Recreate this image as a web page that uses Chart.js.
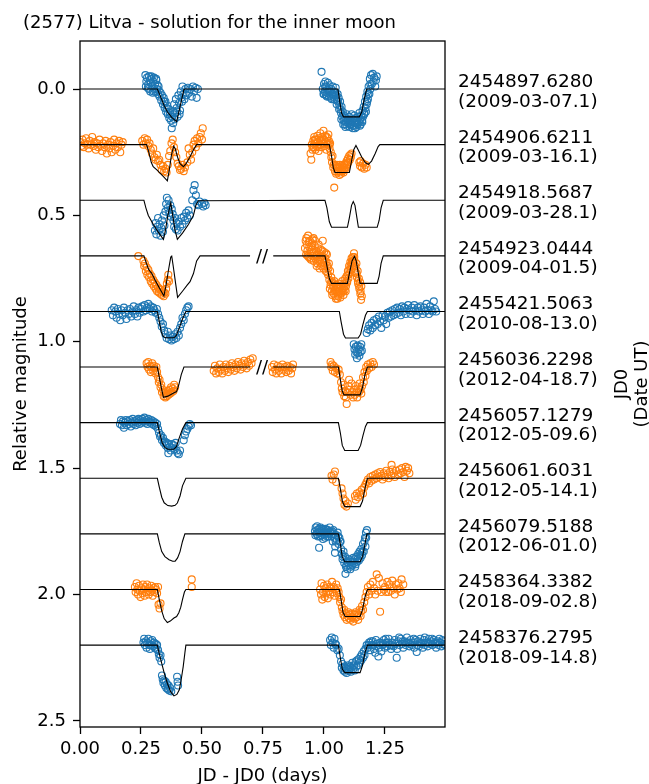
<!DOCTYPE html>
<html>
<head>
<meta charset="utf-8">
<script src="https://cdn.jsdelivr.net/npm/chart.js@4.4.1/dist/chart.umd.min.js"></script>
<style>
  html, body { margin: 0; padding: 0; background: #fff; }
  #wrap { width: 649px; height: 784px; }
</style>
</head>
<body>
<div id="wrap"><canvas id="lcChart" width="649" height="784"></canvas></div>
<script>
// offsets of the individual light curves and their JD0 / date labels
const offsets = [0.00, 0.22, 0.44, 0.66, 0.88, 1.10, 1.32, 1.54, 1.76, 1.98, 2.20];
const jd0Labels = ["2454897.6280", "2454906.6211", "2454918.5687", "2454923.0444", "2455421.5063",
    "2456036.2298", "2456057.1279", "2456061.6031", "2456079.5188", "2458364.3382", "2458376.2795"];
const dateLabels = ["(2009-03-07.1)", "(2009-03-16.1)", "(2009-03-28.1)", "(2009-04-01.5)", "(2010-08-13.0)",
    "(2012-04-18.7)", "(2012-05-09.6)", "(2012-05-14.1)", "(2012-06-01.0)", "(2018-09-02.8)", "(2018-09-14.8)"];
const xTicks = [0.00, 0.25, 0.50, 0.75, 1.00, 1.25];
const yTicks = [0.0, 0.5, 1.0, 1.5, 2.0, 2.5];

// model curves [x, mag]
const model0 = [[0,0],[0.317,0],[0.33,0.03],[0.345,0.065],[0.358,0.09],[0.376,0.112],[0.396,0.129],[0.41,0.07],[0.426,0.002],[0.432,0],
    [1.057,0],[1.063,0.04],[1.072,0.095],[1.08,0.11],[1.145,0.11],[1.155,0.09],[1.165,0.04],[1.175,0],[1.496,0]];
const model1 = [[0,0.22],[0.273,0.22],[0.282,0.25],[0.292,0.29],[0.30,0.307],[0.315,0.32],[0.33,0.335],[0.345,0.35],[0.358,0.363],[0.366,0.32],[0.375,0.26],[0.384,0.226],[0.39,0.235],[0.40,0.27],[0.41,0.295],[0.424,0.307],[0.435,0.295],[0.45,0.27],[0.465,0.24],[0.478,0.22],
    [1.022,0.22],[1.03,0.26],[1.038,0.31],[1.045,0.33],[1.104,0.33],[1.112,0.29],[1.122,0.24],[1.131,0.223],[1.14,0.24],[1.155,0.27],[1.17,0.292],[1.182,0.298],[1.195,0.285],[1.21,0.255],[1.222,0.228],[1.229,0.22],[1.496,0.22]];
const model2 = [[0,0.44],[0.262,0.44],[0.27,0.47],[0.28,0.50],[0.30,0.535],[0.32,0.565],[0.342,0.595],[0.35,0.56],[0.36,0.50],[0.372,0.45],[0.38,0.50],[0.39,0.56],[0.399,0.595],[0.42,0.57],[0.445,0.535],[0.465,0.50],[0.475,0.46],[0.485,0.442],
    [1.004,0.44],[1.012,0.47],[1.022,0.525],[1.031,0.547],[1.096,0.547],[1.104,0.51],[1.113,0.46],[1.12,0.445],[1.127,0.46],[1.135,0.51],[1.141,0.547],[1.218,0.547],[1.226,0.52],[1.234,0.47],[1.243,0.44],[1.496,0.44]];
const model3a = [[0,0.66],[0.262,0.66],[0.272,0.69],[0.282,0.715],[0.294,0.729],[0.31,0.76],[0.33,0.795],[0.344,0.819],[0.352,0.78],[0.362,0.72],[0.372,0.665],[0.376,0.661],[0.382,0.70],[0.392,0.77],[0.40,0.824],[0.42,0.80],[0.44,0.775],[0.451,0.762],[0.465,0.73],[0.478,0.68],[0.492,0.66],[0.697,0.66]];
const model3b = [[0.792,0.66],[1.004,0.66],[1.012,0.70],[1.022,0.75],[1.031,0.769],[1.096,0.769],[1.104,0.73],[1.115,0.68],[1.125,0.662],[1.132,0.68],[1.141,0.73],[1.148,0.769],[1.218,0.769],[1.226,0.74],[1.234,0.69],[1.243,0.66],[1.496,0.66]];
const model4 = [[0,0.88],[0.317,0.88],[0.325,0.92],[0.333,0.96],[0.34,0.978],[0.35,0.984],[0.385,0.984],[0.395,0.975],[0.405,0.95],[0.42,0.91],[0.434,0.88],
    [1.063,0.88],[1.07,0.92],[1.08,0.97],[1.088,0.985],[1.14,0.985],[1.15,0.97],[1.16,0.93],[1.17,0.895],[1.178,0.88],[1.496,0.88]];
const model5a = [[0,1.10],[0.317,1.10],[0.325,1.14],[0.333,1.18],[0.342,1.22],[0.36,1.215],[0.38,1.205],[0.396,1.197],[0.405,1.17],[0.415,1.13],[0.426,1.10],[0.697,1.10]];
const model5b = [[0.792,1.10],[1.059,1.10],[1.067,1.15],[1.075,1.195],[1.082,1.21],[1.148,1.21],[1.158,1.18],[1.168,1.13],[1.178,1.10],[1.496,1.10]];
const model6 = [[0,1.32],[0.317,1.32],[0.325,1.355],[0.337,1.40],[0.348,1.418],[0.36,1.425],[0.385,1.425],[0.395,1.415],[0.405,1.385],[0.42,1.345],[0.434,1.32],
    [1.059,1.32],[1.067,1.36],[1.075,1.41],[1.085,1.43],[1.14,1.43],[1.15,1.41],[1.16,1.37],[1.17,1.335],[1.178,1.32],[1.496,1.32]];
const model7 = [[0,1.54],[0.317,1.54],[0.325,1.575],[0.335,1.615],[0.345,1.637],[0.36,1.648],[0.376,1.65],[0.39,1.647],[0.399,1.638],[0.41,1.61],[0.42,1.57],[0.434,1.54],
    [1.059,1.54],[1.067,1.58],[1.075,1.63],[1.085,1.652],[1.148,1.652],[1.158,1.63],[1.168,1.58],[1.178,1.54],[1.496,1.54]];
const model8 = [[0,1.76],[0.317,1.76],[0.325,1.795],[0.335,1.83],[0.348,1.85],[0.365,1.862],[0.38,1.868],[0.39,1.868],[0.40,1.855],[0.41,1.83],[0.42,1.79],[0.43,1.76],
    [1.059,1.76],[1.067,1.80],[1.075,1.85],[1.085,1.87],[1.148,1.87],[1.158,1.85],[1.168,1.80],[1.176,1.76],[1.496,1.76]];
const model9 = [[0,1.98],[0.317,1.98],[0.325,2.02],[0.335,2.065],[0.345,2.095],[0.358,2.111],[0.37,2.105],[0.385,2.093],[0.396,2.087],[0.405,2.072],[0.413,2.05],[0.42,2.02],[0.428,1.99],[0.434,1.98],
    [1.063,1.98],[1.07,2.02],[1.078,2.07],[1.087,2.087],[1.148,2.087],[1.158,2.06],[1.168,2.01],[1.178,1.98],[1.496,1.98]];
const model10 = [[0,2.20],[0.317,2.20],[0.325,2.235],[0.335,2.272],[0.345,2.31],[0.358,2.351],[0.372,2.385],[0.385,2.401],[0.397,2.395],[0.407,2.377],[0.415,2.335],[0.423,2.285],[0.43,2.23],[0.434,2.20],
    [1.059,2.20],[1.067,2.25],[1.075,2.295],[1.085,2.309],[1.148,2.309],[1.158,2.28],[1.168,2.23],[1.178,2.20],[1.496,2.20]];

// observations [x, mag]
const obs0 = [[0.268,-0.055],[0.272,-0.03],[0.275,-0.045],[0.278,-0.005],[0.28,-0.02],[0.283,-0.05],[0.286,-0.035],[0.288,0.01],[0.29,-0.025],[0.293,-0.04],[0.296,-0.01],[0.298,0.015],[0.30,-0.03],[0.303,-0.045],[0.305,0.0],[0.308,-0.02],[0.31,0.012],[0.313,-0.035],[0.316,0.0],[0.318,-0.015],[0.32,0.02],[0.323,0.005],[0.326,0.03],[0.33,0.015],[0.333,0.045],[0.336,0.025],[0.34,0.06],[0.343,0.035],[0.347,0.075],[0.35,0.05],[0.353,0.09],[0.357,0.065],[0.36,0.10],[0.363,0.08],[0.366,0.115],[0.37,0.095],[0.373,0.125],[0.376,0.155],[0.378,0.11],[0.382,0.135],[0.386,0.06],[0.39,0.095],[0.393,0.04],[0.396,0.075],[0.40,0.11],[0.403,0.025],[0.406,0.055],[0.41,0.085],[0.413,0.01],[0.416,0.035],[0.42,-0.01],[0.424,0.02],[0.428,0.04],[0.432,0.0],[0.437,0.025],[0.442,-0.005],[0.447,0.015],[0.452,0.0],[0.458,0.03],[0.463,-0.01],[0.468,0.01],[0.474,-0.005],[0.478,0.035],[0.483,0.0],
    [0.27,-0.01],[0.282,0.0],[0.292,-0.05],[0.302,0.01],[0.312,-0.04],[0.322,-0.01],[0.345,0.05],[0.355,0.075],[0.368,0.1],[0.38,0.09],[0.388,0.12],[0.398,0.09],[0.408,0.1],[0.418,0.05],
    [0.99,-0.068],[0.995,0.0],[0.998,0.02],[1.0,-0.02],[1.003,0.01],[1.006,-0.03],[1.008,0.025],[1.01,-0.01],[1.013,0.015],[1.016,-0.025],[1.018,0.005],[1.02,0.03],[1.023,-0.015],[1.026,0.01],[1.028,0.035],[1.03,0.0],[1.033,0.02],[1.036,-0.01],[1.038,0.03],[1.04,0.01],[1.043,0.04],[1.046,0.015],[1.048,-0.005],[1.05,0.025],[1.053,0.045],[1.056,0.02],[1.058,0.05],[1.06,0.035],[1.063,0.065],[1.066,0.05],[1.068,0.08],[1.07,0.095],[1.072,0.07],[1.075,0.11],[1.077,0.09],[1.08,0.125],[1.082,0.105],[1.085,0.14],[1.087,0.115],[1.09,0.13],[1.093,0.1],[1.095,0.145],[1.098,0.12],[1.1,0.135],[1.103,0.11],[1.105,0.15],[1.108,0.125],[1.11,0.14],[1.113,0.1],[1.115,0.13],[1.118,0.155],[1.12,0.12],[1.123,0.145],[1.125,0.105],[1.128,0.135],[1.13,0.115],[1.133,0.15],[1.135,0.125],[1.138,0.14],[1.14,0.11],[1.143,0.13],[1.145,0.095],[1.148,0.12],[1.15,0.14],[1.153,0.105],[1.156,0.125],[1.158,0.085],[1.16,0.11],[1.163,0.07],[1.166,0.095],[1.168,0.05],[1.17,0.075],[1.173,0.03],[1.175,0.06],[1.178,0.01],[1.18,0.04],[1.183,-0.01],[1.186,0.02],[1.188,-0.04],[1.19,0.0],[1.193,-0.055],[1.196,-0.02],[1.2,-0.06],[1.203,-0.03],[1.206,-0.045],[1.21,-0.01],[1.213,-0.035],[1.216,-0.05],
    [1.0,0.02],[1.005,-0.01],[1.012,0.03],[1.022,0.0],[1.032,0.04],[1.042,0.025],[1.052,0.06],[1.062,0.08],[1.071,0.12],[1.079,0.14],[1.088,0.15],[1.097,0.13],[1.107,0.14],[1.117,0.145],[1.127,0.155],[1.137,0.135],[1.147,0.145],[1.157,0.13],[1.165,0.1],[1.172,0.09],[1.177,0.05],[1.182,0.02],[1.19,-0.02]];
const obs1 = [[0.0,0.21],[0.005,0.225],[0.01,0.20],[0.015,0.23],[0.02,0.215],[0.025,0.195],[0.03,0.22],[0.035,0.235],[0.04,0.205],[0.045,0.22],[0.05,0.19],[0.055,0.225],[0.06,0.21],[0.065,0.24],[0.07,0.215],[0.075,0.23],[0.08,0.2],[0.085,0.225],[0.09,0.245],[0.095,0.215],[0.10,0.23],[0.105,0.205],[0.11,0.255],[0.115,0.22],[0.12,0.235],[0.125,0.21],[0.13,0.25],[0.135,0.225],[0.14,0.2],[0.145,0.24],[0.15,0.215],[0.155,0.23],[0.16,0.205],[0.165,0.25],[0.17,0.22],[0.175,0.21],
    [0.255,0.205],[0.26,0.22],[0.265,0.195],[0.27,0.215],[0.275,0.2],[0.28,0.225],[0.285,0.215],[0.29,0.24],[0.295,0.255],[0.30,0.235],[0.305,0.27],[0.31,0.28],[0.315,0.26],[0.32,0.285],[0.325,0.28],[0.33,0.3],[0.335,0.32],[0.34,0.305],[0.345,0.325],[0.35,0.315],[0.355,0.33],[0.36,0.3],[0.365,0.265],[0.37,0.245],[0.375,0.215],[0.38,0.2],[0.385,0.23],[0.39,0.25],[0.395,0.27],[0.40,0.295],[0.405,0.305],[0.41,0.32],[0.415,0.315],[0.42,0.3],[0.425,0.325],[0.43,0.31],[0.44,0.29],[0.445,0.235],[0.45,0.26],[0.455,0.28],[0.46,0.25],[0.465,0.22],[0.47,0.205],[0.475,0.23],[0.48,0.195],[0.485,0.215],[0.49,0.19],[0.495,0.175],[0.50,0.2],[0.503,0.155],
    [0.945,0.255],[0.948,0.28],[0.95,0.22],[0.953,0.24],[0.956,0.205],[0.958,0.23],[0.96,0.19],[0.963,0.215],[0.965,0.24],[0.968,0.2],[0.97,0.225],[0.973,0.185],[0.975,0.21],[0.978,0.245],[0.98,0.195],[0.983,0.22],[0.985,0.175],[0.988,0.205],[0.99,0.23],[0.993,0.19],[0.995,0.215],[0.998,0.165],[1.0,0.2],[1.003,0.225],[1.005,0.185],[1.008,0.21],[1.01,0.24],[1.013,0.195],[1.015,0.22],[1.018,0.18],[1.02,0.205],[1.023,0.235],[1.025,0.215],[1.028,0.25],[1.03,0.27],[1.033,0.29],[1.035,0.265],[1.038,0.31],[1.04,0.3],[1.042,0.39],[1.045,0.325],[1.048,0.305],[1.05,0.335],[1.053,0.315],[1.055,0.33],[1.058,0.31],[1.06,0.325],[1.063,0.34],[1.065,0.3],[1.068,0.32],[1.07,0.335],[1.073,0.305],[1.075,0.325],[1.078,0.31],[1.08,0.33],[1.083,0.3],[1.085,0.32],[1.088,0.295],[1.09,0.31],[1.093,0.285],[1.095,0.3],[1.098,0.275],[1.1,0.29],[1.103,0.265],[1.106,0.28],[1.108,0.26],[1.11,0.27],[1.113,0.255],[1.145,0.29],[1.148,0.305],[1.15,0.285],[1.155,0.31],[1.16,0.295],[1.165,0.315],[1.17,0.3],[1.175,0.31],
    [0.955,0.23],[0.962,0.2],[0.972,0.23],[0.982,0.205],[0.992,0.2],[1.002,0.215],[1.012,0.19],[1.022,0.22],[1.052,0.3],[1.062,0.31],[1.072,0.32],[1.082,0.315],[1.092,0.3]];
const obs2 = [[0.307,0.56],[0.31,0.53],[0.313,0.575],[0.316,0.545],[0.32,0.51],[0.323,0.56],[0.326,0.535],[0.33,0.58],[0.333,0.55],[0.336,0.52],[0.34,0.565],[0.343,0.5],[0.346,0.54],[0.35,0.485],[0.353,0.455],[0.356,0.43],[0.36,0.47],[0.363,0.44],[0.366,0.49],[0.37,0.46],[0.373,0.505],[0.376,0.475],[0.38,0.495],[0.383,0.52],[0.386,0.545],[0.39,0.51],[0.393,0.555],[0.396,0.53],[0.40,0.56],[0.405,0.525],[0.41,0.545],[0.415,0.51],[0.42,0.535],[0.425,0.505],[0.43,0.52],[0.435,0.49],[0.44,0.51],[0.445,0.48],[0.45,0.5],[0.46,0.44],[0.465,0.40],[0.47,0.38],[0.475,0.42],[0.48,0.455],[0.485,0.46],[0.49,0.445],[0.50,0.455],[0.505,0.465],[0.51,0.45],[0.515,0.46]];
const obs3 = [[0.239,0.661],[0.26,0.68],[0.263,0.7],[0.266,0.69],[0.27,0.72],[0.273,0.705],[0.276,0.735],[0.28,0.715],[0.283,0.745],[0.286,0.73],[0.29,0.76],[0.293,0.74],[0.296,0.77],[0.30,0.755],[0.303,0.78],[0.306,0.765],[0.31,0.79],[0.313,0.775],[0.316,0.8],[0.32,0.785],[0.323,0.805],[0.326,0.79],[0.33,0.81],[0.333,0.795],[0.336,0.815],[0.34,0.8],[0.343,0.82],[0.346,0.805],[0.35,0.81],[0.353,0.79],[0.356,0.77],[0.36,0.755],[0.362,0.735],[0.365,0.76],
    [0.922,0.63],[0.925,0.6],[0.927,0.655],[0.93,0.615],[0.932,0.64],[0.935,0.58],[0.937,0.665],[0.94,0.625],[0.942,0.6],[0.945,0.645],[0.947,0.675],[0.95,0.61],[0.952,0.635],[0.955,0.66],[0.957,0.59],[0.96,0.645],[0.962,0.62],[0.965,0.67],[0.967,0.64],[0.97,0.7],[0.972,0.655],[0.975,0.63],[0.977,0.68],[0.98,0.65],[0.982,0.71],[0.985,0.665],[0.987,0.635],[0.99,0.69],[0.992,0.66],[0.995,0.6],[0.997,0.675],[1.0,0.645],[1.002,0.7],[1.005,0.67],[1.007,0.72],[1.01,0.685],[1.012,0.655],[1.015,0.7],[1.017,0.735],[1.02,0.69],
    [1.022,0.755],[1.025,0.72],[1.027,0.775],[1.03,0.745],[1.032,0.8],[1.035,0.765],[1.037,0.785],[1.04,0.81],[1.042,0.76],[1.045,0.795],[1.047,0.82],[1.05,0.775],[1.052,0.8],[1.055,0.83],[1.057,0.785],[1.06,0.81],[1.062,0.77],[1.065,0.8],[1.067,0.825],[1.07,0.78],[1.072,0.805],[1.075,0.76],[1.077,0.79],[1.08,0.815],[1.082,0.77],[1.085,0.795],[1.087,0.75],[1.09,0.78],
    [1.093,0.74],[1.095,0.765],[1.098,0.72],[1.1,0.75],[1.103,0.7],[1.105,0.73],[1.108,0.685],[1.11,0.715],[1.113,0.67],[1.115,0.7],[1.118,0.665],[1.12,0.69],[1.123,0.65],[1.125,0.68],[1.128,0.7],[1.13,0.725],[1.133,0.69],[1.135,0.745],[1.138,0.72],[1.14,0.77],[1.143,0.75],[1.145,0.79],[1.148,0.765],[1.15,0.8],[1.153,0.78],[1.155,0.82],[1.152,0.834],
    [0.928,0.59],[0.933,0.66],[0.938,0.605],[0.943,0.67],[0.948,0.625],[0.953,0.595],[0.958,0.68],[0.963,0.6],[0.968,0.66],[0.973,0.69],[0.978,0.615],[0.983,0.675],[0.988,0.7],[0.993,0.64],[0.998,0.71],[1.003,0.685],[1.008,0.65],[1.013,0.725],[1.018,0.71],[1.024,0.79],[1.029,0.765],[1.034,0.815],[1.039,0.78],[1.044,0.8],[1.049,0.83],[1.054,0.79],[1.059,0.82],[1.064,0.785],[1.069,0.81],[1.074,0.795],[1.079,0.8],[1.084,0.78],[1.089,0.8],[1.094,0.76],[1.099,0.735],[1.104,0.715],[1.109,0.7],[1.114,0.685],[1.119,0.68],[1.124,0.665],[1.129,0.71],[1.134,0.73],[1.139,0.76],[1.144,0.78],[1.149,0.81]];
const obs4 = [[0.13,0.875],[0.135,0.895],[0.14,0.865],[0.145,0.88],[0.15,0.905],[0.155,0.87],[0.16,0.89],[0.165,0.915],[0.17,0.875],[0.175,0.895],[0.18,0.865],[0.185,0.885],[0.19,0.91],[0.195,0.875],[0.2,0.89],[0.205,0.87],[0.21,0.9],[0.215,0.88],[0.22,0.86],[0.225,0.89],[0.23,0.875],[0.235,0.9],[0.24,0.865],[0.245,0.885],[0.25,0.87],[0.255,0.86],[0.26,0.88],[0.265,0.855],[0.27,0.875],[0.275,0.865],[0.28,0.85],[0.285,0.87],[0.29,0.86],[0.295,0.88],[0.3,0.865],[0.305,0.875],[0.31,0.885],[0.315,0.87],[0.32,0.89],[0.325,0.905],[0.33,0.92],[0.335,0.94],[0.34,0.93],[0.345,0.955],[0.35,0.97],[0.355,0.985],[0.36,0.96],[0.365,0.99],[0.37,0.975],[0.375,0.995],[0.38,0.98],[0.385,0.99],[0.39,0.97],[0.395,0.985],[0.40,0.96],[0.405,0.975],[0.41,0.945],[0.415,0.93],[0.42,0.905],[0.425,0.915],[0.43,0.89],[0.435,0.875],[0.44,0.865],[0.445,0.86],
    [1.122,1.01],[1.125,1.03],[1.128,1.05],[1.13,1.02],[1.133,1.04],[1.135,1.065],[1.138,1.015],[1.14,1.045],[1.143,1.03],[1.145,1.055],[1.148,1.02],[1.15,1.04],[1.153,1.01],[1.155,1.035],
    [1.175,0.965],[1.18,0.95],[1.185,0.935],[1.19,0.955],[1.195,0.925],[1.2,0.945],[1.205,0.915],[1.21,0.935],[1.215,0.91],[1.22,0.93],[1.225,0.9],[1.23,0.92],[1.235,0.945],[1.24,0.895],[1.245,0.915],[1.25,0.9],[1.255,0.93],[1.26,0.885],[1.265,0.905],[1.27,0.88],[1.275,0.9],[1.28,0.875],[1.285,0.895],[1.29,0.87],[1.295,0.89],[1.3,0.865],[1.305,0.885],[1.31,0.87],[1.315,0.895],[1.32,0.86],[1.325,0.88],[1.33,0.865],[1.335,0.89],[1.34,0.87],[1.345,0.855],[1.35,0.875],[1.355,0.89],[1.36,0.865],[1.365,0.88],[1.37,0.855],[1.375,0.875],[1.38,0.895],[1.385,0.865],[1.39,0.88],[1.395,0.86],[1.4,0.875],[1.405,0.89],[1.41,0.865],[1.415,0.88],[1.42,0.85],[1.425,0.875],[1.43,0.89],[1.435,0.86],[1.44,0.875],[1.445,0.88],[1.45,0.84],[1.455,0.87],[1.46,0.88]];
const obs5 = [[0.273,1.085],[0.277,1.1],[0.28,1.08],[0.283,1.11],[0.286,1.095],[0.29,1.12],[0.293,1.1],[0.296,1.085],[0.30,1.115],[0.303,1.095],[0.306,1.105],[0.31,1.125],[0.313,1.1],[0.316,1.12],[0.32,1.14],[0.323,1.16],[0.326,1.15],[0.33,1.18],[0.333,1.17],[0.336,1.2],[0.34,1.19],[0.343,1.215],[0.346,1.2],[0.35,1.22],[0.353,1.205],[0.356,1.215],[0.36,1.195],[0.363,1.21],[0.366,1.19],[0.37,1.205],[0.373,1.18],[0.376,1.2],[0.38,1.185],[0.383,1.195],[0.386,1.17],[0.39,1.18],
    [0.548,1.115],[0.553,1.095],[0.558,1.125],[0.563,1.105],[0.568,1.12],[0.573,1.09],[0.578,1.11],[0.583,1.125],[0.588,1.1],[0.593,1.115],[0.598,1.09],[0.603,1.105],[0.608,1.12],[0.613,1.095],[0.618,1.11],[0.623,1.085],[0.628,1.1],[0.633,1.115],[0.638,1.09],[0.643,1.105],[0.648,1.08],[0.653,1.095],[0.658,1.11],[0.663,1.085],[0.668,1.1],[0.673,1.075],[0.678,1.09],[0.683,1.105],[0.688,1.08],[0.693,1.095],[0.698,1.07],[0.703,1.085],[0.708,1.065],
    [0.787,1.1],[0.79,1.12],[0.795,1.09],[0.8,1.11],[0.805,1.125],[0.81,1.095],[0.815,1.115],[0.82,1.1],[0.825,1.125],[0.83,1.09],[0.835,1.11],[0.84,1.1],[0.845,1.12],[0.85,1.095],[0.855,1.115],[0.86,1.1],[0.865,1.125],[0.87,1.105],[0.873,1.09],
    [1.027,1.08],[1.03,1.1],[1.033,1.09],[1.036,1.115],[1.04,1.095],[1.045,1.12],[1.05,1.105],[1.055,1.125],[1.06,1.11],[1.065,1.13],[1.07,1.16],[1.073,1.185],[1.076,1.2],[1.08,1.17],[1.083,1.215],[1.086,1.195],[1.09,1.22],[1.093,1.246],[1.096,1.2],[1.1,1.175],[1.103,1.15],[1.106,1.19],[1.11,1.21],[1.113,1.165],[1.116,1.2],[1.12,1.22],[1.123,1.19],[1.126,1.21],[1.13,1.175],[1.133,1.2],[1.136,1.22],[1.14,1.185],[1.143,1.2],[1.146,1.165],[1.15,1.19],[1.153,1.205],[1.156,1.175],[1.16,1.14],[1.163,1.16],[1.166,1.12],[1.17,1.135],[1.173,1.1],[1.176,1.115],[1.18,1.09],[1.185,1.105],[1.19,1.085],[1.195,1.1],[1.2,1.08],[1.205,1.09]];
const obs6 = [[0.164,1.325],[0.168,1.31],[0.172,1.33],[0.176,1.315],[0.18,1.34],[0.184,1.32],[0.188,1.31],[0.192,1.33],[0.196,1.315],[0.2,1.325],[0.204,1.31],[0.208,1.335],[0.212,1.32],[0.216,1.305],[0.22,1.325],[0.224,1.315],[0.228,1.33],[0.232,1.31],[0.236,1.32],[0.24,1.305],[0.244,1.325],[0.248,1.31],[0.252,1.32],[0.256,1.305],[0.26,1.315],[0.264,1.3],[0.268,1.32],[0.272,1.31],[0.276,1.325],[0.28,1.305],[0.284,1.315],[0.288,1.32],[0.292,1.31],[0.296,1.325],[0.30,1.315],[0.304,1.33],[0.308,1.32],[0.312,1.335],[0.316,1.325],[0.32,1.345],[0.324,1.36],[0.328,1.375],[0.332,1.37],[0.336,1.39],[0.34,1.38],[0.344,1.40],[0.348,1.395],[0.352,1.41],[0.356,1.4],[0.36,1.42],[0.362,1.441],[0.364,1.405],[0.368,1.415],[0.372,1.43],[0.376,1.405],[0.38,1.42],[0.384,1.41],[0.388,1.425],[0.392,1.4],[0.396,1.43],[0.40,1.44],[0.405,1.445],[0.41,1.43],[0.425,1.39],[0.43,1.37],[0.435,1.355],[0.44,1.345],[0.445,1.335],[0.45,1.325],[0.455,1.33]];
const obs7 = [[1.031,1.53],[1.035,1.545],[1.04,1.525],[1.045,1.513],[1.05,1.555],[1.072,1.58],[1.076,1.6],[1.08,1.62],[1.084,1.645],[1.088,1.63],[1.092,1.652],[1.098,1.64],[1.127,1.61],[1.13,1.625],[1.135,1.6],[1.14,1.615],[1.145,1.595],[1.15,1.605],[1.155,1.585],[1.16,1.6],[1.165,1.575],[1.17,1.565],[1.175,1.555],[1.18,1.545],[1.185,1.56],[1.19,1.535],[1.195,1.55],[1.2,1.53],[1.205,1.545],[1.21,1.525],[1.215,1.54],[1.22,1.52],[1.225,1.535],[1.23,1.515],[1.235,1.53],[1.24,1.545],[1.245,1.52],[1.25,1.535],[1.255,1.51],[1.26,1.525],[1.265,1.54],[1.27,1.515],[1.275,1.53],[1.28,1.505],[1.285,1.52],[1.29,1.535],[1.295,1.51],[1.277,1.487],[1.305,1.525],[1.31,1.505],[1.315,1.52],[1.32,1.5],[1.325,1.515],[1.33,1.535],[1.335,1.495],[1.34,1.51],[1.345,1.5],[1.35,1.52]];
const obs8 = [[0.963,1.75],[0.966,1.735],[0.97,1.76],[0.973,1.745],[0.976,1.77],[0.98,1.74],[0.98,1.815],[0.983,1.755],[0.986,1.735],[0.99,1.765],[0.993,1.75],[0.996,1.78],[1.0,1.745],[1.003,1.76],[1.006,1.74],[1.01,1.755],[1.013,1.77],[1.016,1.745],[1.02,1.76],[1.023,1.735],[1.026,1.755],[1.03,1.77],[1.033,1.75],[1.036,1.79],[1.04,1.76],[1.043,1.775],[1.045,1.835],[1.046,1.81],[1.05,1.765],[1.053,1.785],[1.056,1.755],[1.06,1.8],[1.063,1.775],[1.066,1.79],[1.068,1.79],[1.07,1.82],[1.073,1.84],[1.076,1.86],[1.08,1.83],[1.083,1.875],[1.086,1.85],[1.088,1.918],[1.09,1.89],[1.093,1.87],[1.096,1.9],[1.1,1.86],[1.103,1.885],[1.106,1.865],[1.11,1.89],[1.113,1.87],[1.116,1.885],[1.12,1.855],[1.123,1.875],[1.126,1.86],[1.13,1.88],[1.133,1.85],[1.136,1.87],[1.14,1.84],[1.143,1.865],[1.146,1.83],[1.15,1.855],[1.153,1.82],[1.156,1.845],[1.16,1.8],[1.163,1.83],[1.166,1.79],[1.17,1.81],[1.172,1.755],[1.173,1.775],[1.176,1.745],
    [0.965,1.765],[0.972,1.73],[0.978,1.755],[0.985,1.77],[0.992,1.74],[0.998,1.76],[1.005,1.775],[1.012,1.745],[1.018,1.77],[1.025,1.75],[1.032,1.76],[1.038,1.745],[1.048,1.79],[1.058,1.77],[1.078,1.85],[1.092,1.885],[1.098,1.875],[1.108,1.9],[1.118,1.87],[1.128,1.89],[1.138,1.86],[1.148,1.845],[1.158,1.83],[1.168,1.775]];
const obs9 = [[0.225,1.97],[0.228,1.99],[0.232,1.955],[0.235,1.98],[0.238,2.0],[0.242,1.965],[0.245,1.985],[0.248,2.01],[0.252,1.975],[0.255,1.995],[0.258,1.96],[0.262,1.98],[0.265,2.005],[0.268,1.97],[0.272,1.99],[0.275,1.96],[0.278,1.985],[0.282,2.0],[0.285,1.975],[0.288,1.99],[0.292,1.965],[0.295,1.985],[0.298,2.005],[0.302,1.975],[0.305,1.99],[0.308,1.97],[0.312,1.98],[0.316,1.995],[0.32,1.97],[0.322,2.04],[0.326,2.055],[0.33,2.035],[0.458,1.94],[0.458,1.97],
    [0.984,1.98],[0.988,2.0],[0.99,1.955],[0.993,2.02],[0.996,1.99],[1.0,1.965],[1.003,2.01],[1.006,1.975],[1.01,1.995],[1.013,1.96],[1.016,2.015],[1.02,1.985],[1.023,1.97],[1.026,2.0],[1.03,1.975],[1.033,1.95],[1.036,1.99],[1.04,1.97],[1.043,2.005],[1.046,1.98],[1.05,1.96],[1.053,1.995],[1.056,1.975],[1.06,1.99],[1.063,2.01],[1.066,2.03],[1.07,2.02],[1.073,2.05],[1.076,2.065],[1.08,2.08],[1.083,2.06],[1.086,2.09],[1.09,2.075],[1.093,2.1],[1.096,2.085],[1.1,2.07],[1.103,2.095],[1.106,2.08],[1.11,2.1],[1.113,2.075],[1.116,2.09],[1.12,2.107],[1.123,2.08],[1.126,2.095],[1.13,2.07],[1.133,2.09],[1.136,2.075],[1.14,2.1],[1.143,2.08],[1.146,2.06],[1.15,2.085],[1.153,2.065],[1.156,2.045],[1.16,2.06],[1.165,2.03],[1.17,2.01],[1.175,1.99],[1.18,1.97],[1.185,2.0],[1.19,1.96],[1.195,1.985],[1.2,1.95],[1.205,1.975],[1.21,2.0],[1.216,1.92],[1.22,1.985],[1.225,1.935],[1.23,2.068],[1.235,1.99],[1.24,1.955],[1.245,1.98],[1.25,1.97],[1.255,1.99],[1.26,1.95],[1.265,1.99],[1.27,1.96],[1.275,1.985],[1.28,1.945],[1.285,1.975],[1.29,2.0],[1.295,1.96],[1.3,1.98],[1.305,1.955],[1.31,1.975],[1.315,1.99],[1.318,1.94],[1.325,1.96]];
const obs10 = [[0.26,2.19],[0.263,2.175],[0.266,2.2],[0.27,2.185],[0.273,2.21],[0.276,2.19],[0.28,2.175],[0.283,2.2],[0.286,2.215],[0.29,2.185],[0.293,2.2],[0.296,2.18],[0.30,2.205],[0.303,2.19],[0.306,2.21],[0.31,2.195],[0.313,2.215],[0.316,2.2],[0.32,2.22],[0.323,2.235],[0.326,2.25],[0.33,2.24],[0.333,2.265],[0.336,2.32],[0.339,2.335],[0.342,2.35],[0.345,2.34],[0.348,2.36],[0.351,2.345],[0.354,2.37],[0.357,2.355],[0.36,2.375],[0.363,2.36],[0.366,2.38],[0.37,2.37],[0.374,2.383],[0.398,2.325],[0.4,2.345],[0.402,2.36],
    [1.025,2.18],[1.028,2.2],[1.032,2.17],[1.035,2.19],[1.04,2.21],[1.043,2.175],[1.047,2.195],[1.05,2.2],[1.055,2.22],[1.06,2.215],[1.065,2.24],[1.07,2.265],[1.073,2.29],[1.076,2.275],[1.08,2.3],[1.083,2.285],[1.086,2.305],[1.09,2.29],[1.093,2.31],[1.096,2.295],[1.1,2.28],[1.103,2.3],[1.106,2.285],[1.11,2.305],[1.113,2.29],[1.116,2.27],[1.12,2.295],[1.123,2.28],[1.126,2.3],[1.13,2.265],[1.133,2.285],[1.136,2.26],[1.14,2.28],[1.143,2.255],[1.146,2.27],[1.15,2.245],[1.153,2.26],[1.156,2.235],[1.16,2.25],[1.163,2.225],[1.166,2.24],[1.17,2.215],[1.175,2.2],
    [1.18,2.21],[1.185,2.19],[1.19,2.22],[1.195,2.2],[1.2,2.185],[1.205,2.215],[1.21,2.23],[1.215,2.195],[1.223,2.245],[1.225,2.21],[1.23,2.19],[1.235,2.225],[1.24,2.2],[1.245,2.18],[1.25,2.21],[1.255,2.19],[1.26,2.205],[1.265,2.175],[1.27,2.2],[1.275,2.215],[1.28,2.19],[1.285,2.205],[1.29,2.18],[1.298,2.25],[1.3,2.215],[1.305,2.185],[1.31,2.2],[1.315,2.175],[1.32,2.195],[1.325,2.21],[1.33,2.185],[1.335,2.2],[1.34,2.17],[1.345,2.19],[1.35,2.205],[1.355,2.18],[1.36,2.2],[1.365,2.19],[1.37,2.21],[1.375,2.18],[1.38,2.227],[1.385,2.185],[1.39,2.205],[1.395,2.175],[1.4,2.195],[1.405,2.21],[1.41,2.18],[1.415,2.2],[1.42,2.19],[1.425,2.205],[1.43,2.175],[1.435,2.195],[1.44,2.185],[1.445,2.2],[1.45,2.18],[1.455,2.195],[1.46,2.21],[1.465,2.185],[1.47,2.2],[1.475,2.19],[1.48,2.205],[1.485,2.18],[1.49,2.195],[1.495,2.2],
    [1.183,2.2],[1.193,2.185],[1.203,2.2],[1.213,2.18],[1.228,2.2],[1.243,2.195],[1.253,2.175],[1.263,2.19],[1.278,2.2],[1.293,2.195],[1.308,2.17],[1.323,2.185],[1.338,2.19],[1.353,2.195],[1.368,2.175],[1.383,2.2],[1.398,2.19],[1.413,2.17],[1.428,2.19],[1.443,2.175],[1.458,2.19],[1.473,2.175],[1.488,2.185]];

const models = [model0, model1, model2, model3a, model3b, model4, model5a, model5b, model6, model7, model8, model9, model10];
const observations = [obs0, obs1, obs2, obs3, obs4, obs5, obs6, obs7, obs8, obs9, obs10];
const breakX = 0.746;            // where the "//" gap marks sit
const breakLevels = [0.66, 1.10];

const BLUE = "#1f77b4";
const ORANGE = "#ff7f0e";
const FONT = "'DejaVu Sans', sans-serif";

let datasets = [];
models.forEach(m => {
    datasets.push({
        data: m,
        showLine: true,
        borderColor: "#000",
        borderWidth: 1.1,
        pointRadius: 0,
        fill: false,
        order: 0
    });
});
observations.forEach((o, i) => {
    datasets.push({
        data: o,
        showLine: false,
        pointStyle: "circle",
        pointRadius: 3.5,
        pointBorderWidth: 1.1,
        borderColor: i % 2 == 0 ? BLUE : ORANGE,
        backgroundColor: "rgba(0,0,0,0)",
        order: 1
    });
});

const textPlugin = {
    id: "textPlugin",
    afterDraw(chart) {
        const ctx = chart.ctx;
        const a = chart.chartArea;
        const ys = chart.scales.y;
        const xs = chart.scales.x;
        ctx.save();
        // frame
        ctx.strokeStyle = "#000";
        ctx.lineWidth = 1.3;
        ctx.strokeRect(a.left, a.top, a.right - a.left, a.bottom - a.top);

        ctx.fillStyle = "#000";
        ctx.font = "18px " + FONT;
        ctx.textBaseline = "alphabetic";

        // title
        ctx.textAlign = "left";
        ctx.fillText("(2577) Litva - solution for the inner moon", 23, 27.5);

        // x axis title
        ctx.textAlign = "center";
        ctx.fillText("JD - JD0 (days)", (a.left + a.right) / 2, 781);

        // break marks
        breakLevels.forEach(v => {
            ctx.fillText("//", xs.getPixelForValue(breakX), ys.getPixelForValue(v) + 6);
        });

        // right labels
        ctx.font = "18.5px " + FONT;
        ctx.textAlign = "left";
        offsets.forEach((v, i) => {
            const py = ys.getPixelForValue(v);
            ctx.fillText(jd0Labels[i], 458, py - 2);
            ctx.fillText(dateLabels[i], 458, py + 17.5);
        });
        ctx.font = "18px " + FONT;

        // y axis title
        ctx.save();
        ctx.translate(25.5, (a.top + a.bottom) / 2);
        ctx.rotate(-Math.PI / 2);
        ctx.textAlign = "center";
        ctx.fillText("Relative magnitude", 0, 0);
        ctx.restore();

        // right axis title
        ctx.save();
        ctx.translate(627, (a.top + a.bottom) / 2);
        ctx.rotate(-Math.PI / 2);
        ctx.textAlign = "center";
        ctx.fillText("JD0", 0, 0);
        ctx.fillText("(Date UT)", 0, 20);
        ctx.restore();

        ctx.restore();
    }
};

const ctx = document.getElementById("lcChart").getContext("2d");
const chart = new Chart(ctx, {
    type: "scatter",
    data: { datasets: datasets },
    options: {
        responsive: false,
        animation: false,
        devicePixelRatio: 1,
        layout: { padding: { left: 0, top: 41, right: 204, bottom: 0 } },
        plugins: {
            legend: { display: false },
            tooltip: { enabled: false },
            title: { display: false }
        },
        scales: {
            x: {
                type: "linear",
                min: 0,
                max: 1.496,
                afterFit: (scale) => { scale.height = 57; },
                afterBuildTicks: (scale) => { scale.ticks = xTicks.map(v => ({ value: v })); },
                border: { display: false },
                grid: { display: true, drawOnChartArea: false, drawTicks: true, tickLength: 7, tickColor: "#000", tickWidth: 1.3 },
                ticks: {
                    color: "#000",
                    padding: 5,
                    maxRotation: 0,
                    font: { family: FONT, size: 18 },
                    callback: function(value) { return value.toFixed(2); }
                }
            },
            y: {
                type: "linear",
                reverse: true,
                min: -0.19,
                max: 2.524,
                afterFit: (scale) => { scale.width = 80; },
                afterBuildTicks: (scale) => { scale.ticks = yTicks.map(v => ({ value: v })); },
                border: { display: false },
                grid: { display: true, drawOnChartArea: false, drawTicks: true, tickLength: 7, tickColor: "#000", tickWidth: 1.3 },
                ticks: {
                    color: "#000",
                    padding: 7,
                    font: { family: FONT, size: 18 },
                    callback: function(value) { return value.toFixed(1); }
                }
            }
        }
    },
    plugins: [textPlugin]
});
</script>
</body>
</html>
